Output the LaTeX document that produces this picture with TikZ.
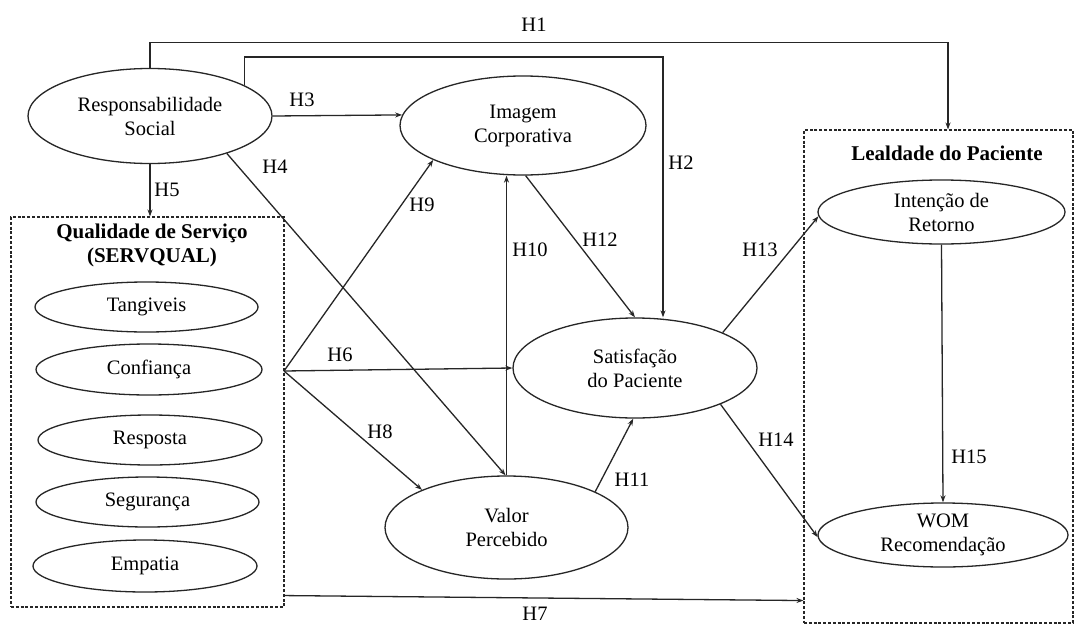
\documentclass[tikz,border=0pt]{standalone}
\usepackage{fontspec}
\setmainfont{Liberation Serif}
\usetikzlibrary{arrows.meta,shapes.geometric,calc}
\begin{document}
\begin{tikzpicture}[x=1pt,y=-1pt,
  every node/.style={font=\fontsize{20.5}{24}\selectfont, text=black},
  ell/.style={draw=black!85, line width=1.3pt, ellipse, inner sep=0pt, align=center},
  grp/.style={draw=black!85, line width=1.1pt, dash pattern=on 3pt off 1.8pt, rectangle, inner sep=0pt},
  arr/.style={draw=black!85, line width=1.3pt, -{Stealth[length=7pt,width=5pt]}},
  lbl/.style={inner sep=1pt},
  ttl/.style={font=\fontsize{21}{24}\selectfont\bfseries, align=center, inner sep=0pt}]
\useasboundingbox (0,0) rectangle (1078,626);
\fill[white] (0,0) rectangle (1078,626);

% groups
\node[grp, minimum width=273pt, minimum height=390pt] (qual) at (147.5,412) {};
\node[ttl] (qualt) at (152,245) {Qualidade de Serviço\\(SERVQUAL)};
\node[grp, minimum width=269pt, minimum height=493pt] (leal) at (938.5,376.5) {};
\node[ttl] (lealt) at (947,153) {Lealdade do Paciente};

% ellipses
\node[ell, minimum width=244pt, minimum height=95pt] (resp) at (150,116) {Responsabilidade\\Social};
\node[ell, minimum width=246pt, minimum height=99pt] (imagem) at (523,125.5) {Imagem\\Corporativa};
\node[ell, minimum width=244pt, minimum height=100pt] (satis) at (635,368) {Satisfação\\do Paciente};
\node[ell, minimum width=243pt, minimum height=103pt] (valor) at (506.5,527.5) {Valor\\Percebido};
\node[ell, minimum width=247pt, minimum height=64pt] (intencao) at (941.5,212) {Intenção de\\Retorno};
\node[ell, minimum width=250pt, minimum height=64pt] (wom) at (943,535) {WOM\\Recomendação};

\node[ell, minimum width=223pt, minimum height=50pt] (tang) at (146.5,307) {Tangiveis};
\node[ell, minimum width=226pt, minimum height=51pt] (conf) at (149,369.5) {Confiança};
\node[ell, minimum width=224pt, minimum height=50pt] (resposta) at (150,440) {Resposta};
\node[ell, minimum width=223pt, minimum height=50pt] (seg) at (147.5,502) {Segurança};
\node[ell, minimum width=224pt, minimum height=52pt] (emp) at (145,566) {Empatia};

% helper coordinates
\coordinate (h1c) at (948,42.5);
\coordinate (h2c) at (663,57);
\coordinate (qo) at (284,371);

% connectors
\draw[arr] (resp.north) |- (h1c) -- (h1c |- leal.north);
\draw[arr] (resp.18.3) |- (h2c) -- (h2c |- satis.north);
\draw[arr] (resp.east) -- (imagem.175);
\draw[arr] (resp.-26.7) -- (valor.91.6);
\draw[arr] (resp.south) -- (resp.south |- qual.north);
\draw[arr] (qo) -- (satis.west);
\draw[arr] (qo) -- (valor.156.8);
\draw[arr] (qo) -- (imagem.201);
\draw[arr] (valor.north) -- (valor.north |- imagem.south);
\draw[arr] ([yshift=12pt]qual.south east) -- ([yshift=23pt]leal.south west);
\draw[arr] (valor.22.9) -- (satis.-92.2);
\draw[arr] (imagem.-87.8) -- (satis.north);
\draw[arr] (satis.22.5) -- (intencao.182);
\draw[arr] (satis.-23.4) -- (wom.181);
\draw[arr] (intencao.south) -- (wom.north);

% labels
\node[lbl] (l1) at (534,25) {H1};
\node[lbl] (l2) at (681,163) {H2};
\node[lbl] (l3) at (302,100) {H3};
\node[lbl] (l4) at (275,167) {H4};
\node[lbl] (l5) at (167,190) {H5};
\node[lbl] (l6) at (340,355) {H6};
\node[lbl] (l7) at (535,614) {H7};
\node[lbl] (l8) at (380,432) {H8};
\node[lbl] (l9) at (422,205) {H9};
\node[lbl] (l10) at (530,250) {H10};
\node[lbl] (l11) at (632,480) {H11};
\node[lbl] (l12) at (600,240) {H12};
\node[lbl] (l13) at (760,250) {H13};
\node[lbl] (l14) at (776,440) {H14};
\node[lbl] (l15) at (969,457) {H15};
\end{tikzpicture}
\end{document}
